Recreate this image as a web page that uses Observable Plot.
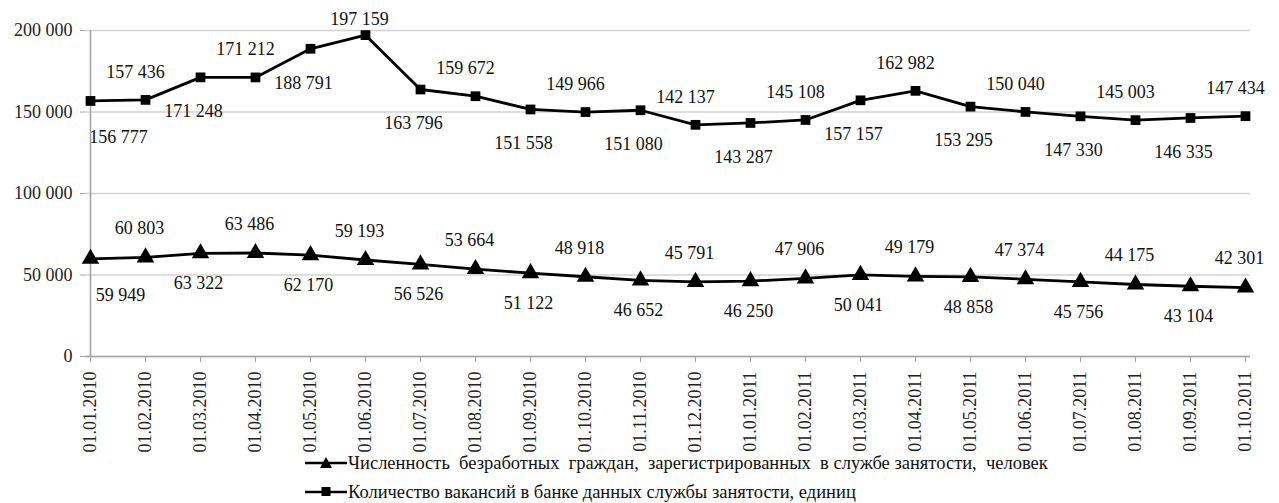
<!DOCTYPE html>
<html><head><meta charset="utf-8">
<script src="https://cdn.jsdelivr.net/npm/d3@7"></script>
<script src="https://cdn.jsdelivr.net/npm/@observablehq/plot@0.6"></script>
<style>
body{margin:0;background:#fff;font-family:"Liberation Serif","Times New Roman",serif;}
#legend{position:relative;height:51px;font-size:18.5px;color:#111;}
.li{position:absolute;left:305px;height:22px;display:flex;align-items:center;white-space:pre;}
.li svg{margin-right:1px}
</style></head>
<body><div id="chart"></div><div id="legend"></div>
<script>
const dates = ["01.01.2010","01.02.2010","01.03.2010","01.04.2010","01.05.2010","01.06.2010","01.07.2010","01.08.2010","01.09.2010","01.10.2010","01.11.2010","01.12.2010","01.01.2011","01.02.2011","01.03.2011","01.04.2011","01.05.2011","01.06.2011","01.07.2011","01.08.2011","01.09.2011","01.10.2011"];
const unemployed = [59949,60803,63322,63486,62170,59193,56526,53664,51122,48918,46652,45791,46250,47906,50041,49179,48858,47374,45756,44175,43104,42301];
const vacancies = [156777,157436,171248,171212,188791,197159,163796,159672,151558,149966,151080,142137,143287,145108,157157,162982,153295,150040,147330,145003,146335,147434];
const yTicks = [0,50000,100000,150000,200000];
const seriesNames = ["Численность  безработных  граждан,  зарегистрированных  в службе занятости,  человек","Количество вакансий в банке данных службы занятости, единиц"];

const fmt = v => d3.format(",")(v).replace(/,/g," ");
const u = dates.map((d,i)=>({date:d, value:unemployed[i], i}));
const v = dates.map((d,i)=>({date:d, value:vacancies[i], i}));
const first = d => d.i === 0;
const even = d => d.i % 2 === 0 && d.i > 0, odd = d => d.i % 2 === 1;
const nearTop = d => d.value > 190000;

const FONT = "'Liberation Serif', 'Times New Roman', serif";
const lbl = {x:"date", y:"value", text:d=>fmt(d.value), fill:"#111", fontSize:18};
const chart = Plot.plot({
  width:1279, height:452,
  marginLeft:85, marginRight:29, marginTop:30, marginBottom:96,
  style:{fontFamily:FONT, fontSize:"18px", color:"#111", background:"#fff"},
  x:{type:"point", domain:dates, padding:0},
  y:{domain:[0,200000]},
  marks:[
    Plot.gridY(yTicks, {stroke:"#d2d2d2", strokeOpacity:1, strokeWidth:1.5}),
    Plot.ruleX([dates[0]], {y1:0, y2:200000, stroke:"#a4a4a4", strokeWidth:1.6}),
    Plot.ruleY([0], {stroke:"#a4a4a4", strokeWidth:1.6}),
    Plot.axisY({ticks:yTicks, tickFormat:fmt, tickSize:5, tickPadding:8, stroke:"#a4a4a4", fill:"#222", fontSize:18, label:null}),
    Plot.axisX({tickRotate:-90, tickSize:6, tickPadding:9, stroke:"#a4a4a4", fill:"#222", fontSize:18, label:null}),
    Plot.line(v, {x:"date", y:"value", stroke:"#000", strokeWidth:2.8}),
    Plot.line(u, {x:"date", y:"value", stroke:"#000", strokeWidth:2.8}),
    Plot.dot(v, {x:"date", y:"value", symbol:"square", r:5.5, fill:"#000"}),
    Plot.dot(u, {x:"date", y:"value", symbol:"triangle", r:6.5, fill:"#000"}),
    Plot.text(v, {...lbl, filter:first, dy:36, dx:28}),
    Plot.text(v, {...lbl, filter:even, dy:34, dx:-7}),
    Plot.text(v, {...lbl, filter:d=>odd(d)&&!nearTop(d), dy:-28, dx:-10}),
    Plot.text(v, {...lbl, filter:d=>odd(d)&&nearTop(d), dy:-16, dx:-6}),
    Plot.text(u, {...lbl, filter:first, dy:36, dx:30}),
    Plot.text(u, {...lbl, filter:even, dy:30, dx:-2}),
    Plot.text(u, {...lbl, filter:odd, dy:-29, dx:-6})
  ]
});
document.getElementById("chart").appendChild(chart);

const leg = document.getElementById("legend");
const markers = [
  '<path d="M21,3 L27,14 L15,14 Z" fill="#000"/>',
  '<rect x="16.5" y="4" width="9" height="9" fill="#000"/>'
];
seriesNames.forEach((name,k)=>{
  const div = document.createElement("div");
  div.className = "li";
  div.style.top = (k*29) + "px";
  div.innerHTML = '<svg width="42" height="18"><line x1="0" x2="42" y1="9" y2="9" stroke="#000" stroke-width="2.5"/>' + markers[k] + '</svg>';
  const span = document.createElement("span");
  span.textContent = name;
  div.appendChild(span);
  leg.appendChild(div);
});
</script></body></html>
